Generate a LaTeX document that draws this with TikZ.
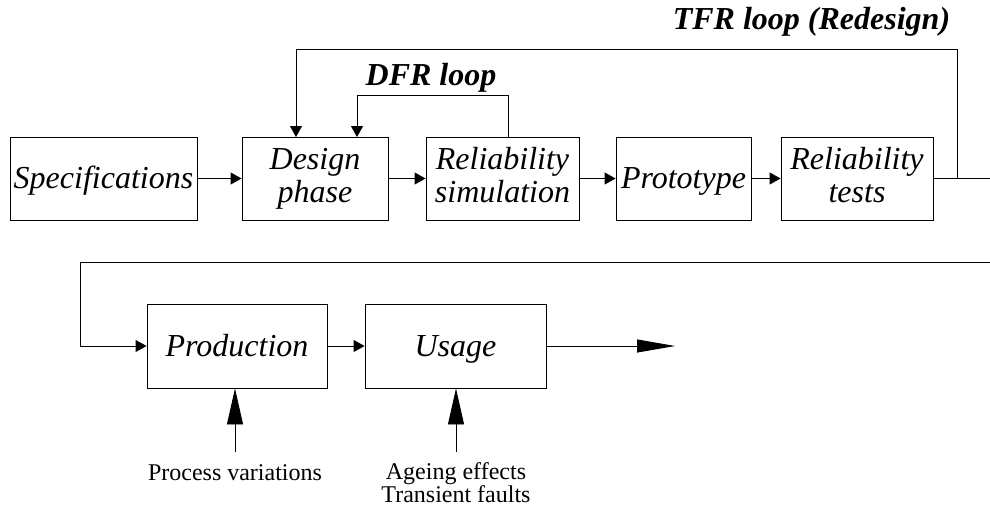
\documentclass[tikz,border=0pt]{standalone}
\usepackage{fontspec}
\setmainfont{Liberation Serif}
\usetikzlibrary{arrows.meta}
\newcommand{\twolines}[2]{\rule{0pt}{22pt}#1\\#2\rule[-8pt]{0pt}{8pt}}
\tikzset{
  box/.style={draw, line width=0.9pt, inner sep=0pt, minimum height=83pt, align=center,
    font=\fontsize{32}{33}\selectfont\itshape},
  oneline/.style={box, text height=25pt, text depth=5pt},
  twoline/.style={box},
  flow/.style={line width=0.9pt, -{Triangle[length=11pt,width=12pt]}},
  line/.style={line width=0.9pt},
  bigup/.style={line width=0.9pt, -{Triangle[length=36pt,width=16pt]}},
  bigout/.style={line width=0.9pt, -{Triangle[length=38pt,width=13pt]}},
  looplabel/.style={anchor=base, inner sep=0pt, font=\fontsize{32}{35}\selectfont\bfseries\itshape},
  note/.style={anchor=base, inner sep=0pt, font=\fontsize{24}{22}\selectfont},
}
\begin{document}
\begin{tikzpicture}[x=1pt,y=-1pt]
\useasboundingbox (0,0) rectangle (990,511);
% first row
\node[oneline, minimum width=187pt] (spec) at (103.5,178.5) {Specifications};
\node[twoline, minimum width=146pt] (design) at (315,178.5) {\twolines{Design}{phase}};
\node[twoline, minimum width=153pt] (relsim) at (502.5,178.5) {\twolines{Reliability}{simulation}};
\node[oneline, minimum width=135pt] (proto) at (683.5,178.5) {Prototype};
\node[twoline, minimum width=152pt] (reltests) at (857,178.5) {\twolines{Reliability}{tests}};
% second row
\node[oneline, minimum width=180pt, minimum height=84pt] (prod) at (237,346) {Production};
\node[oneline, minimum width=181pt, minimum height=84pt] (usage) at (455.5,346) {Usage};
% labels
\node[looplabel] (tfrlabel) at (811.5,30) {TFR loop (Redesign)};
\node[looplabel] (dfrlabel) at (431,85) {DFR loop};
\node[note] (pv) at (235,480) {Process variations};
\node[note] (ae) at (456,479) {Ageing effects};
\node[note] (tf) at (456,502) {Transient faults};
% coordinates
\coordinate (wrapA) at (990,178.5);
\coordinate (tfrj) at (957,178.5);
\coordinate (tfrtop) at (957,49);
\coordinate (dIn1) at (296,137);
\coordinate (dIn2) at (357,137);
\coordinate (dfrtop) at (508,95);
\coordinate (wrapB) at (990,262);
\coordinate (leftc) at (80,262);
\coordinate (outEnd) at (675,346);
\coordinate (pvTop) at (235,452);
\coordinate (aeTop) at (456,452);
% flow arrows
\draw[flow] (spec) -- (design);
\draw[flow] (design) -- (relsim);
\draw[flow] (relsim) -- (proto);
\draw[flow] (proto) -- (reltests);
\draw[line] (reltests) -- (wrapA);
\draw[flow] (tfrj) -- (tfrtop) -| (dIn1);
\draw[flow] (relsim.north -| dfrtop) -- (dfrtop) -| (dIn2);
\draw[flow] (wrapB) -- (leftc) |- (prod.west);
\draw[flow] (prod) -- (usage);
\draw[bigout] (usage.east) -- (outEnd);
\draw[bigup] (pvTop) -- (pvTop |- prod.south);
\draw[bigup] (aeTop) -- (aeTop |- usage.south);
\end{tikzpicture}
\end{document}
